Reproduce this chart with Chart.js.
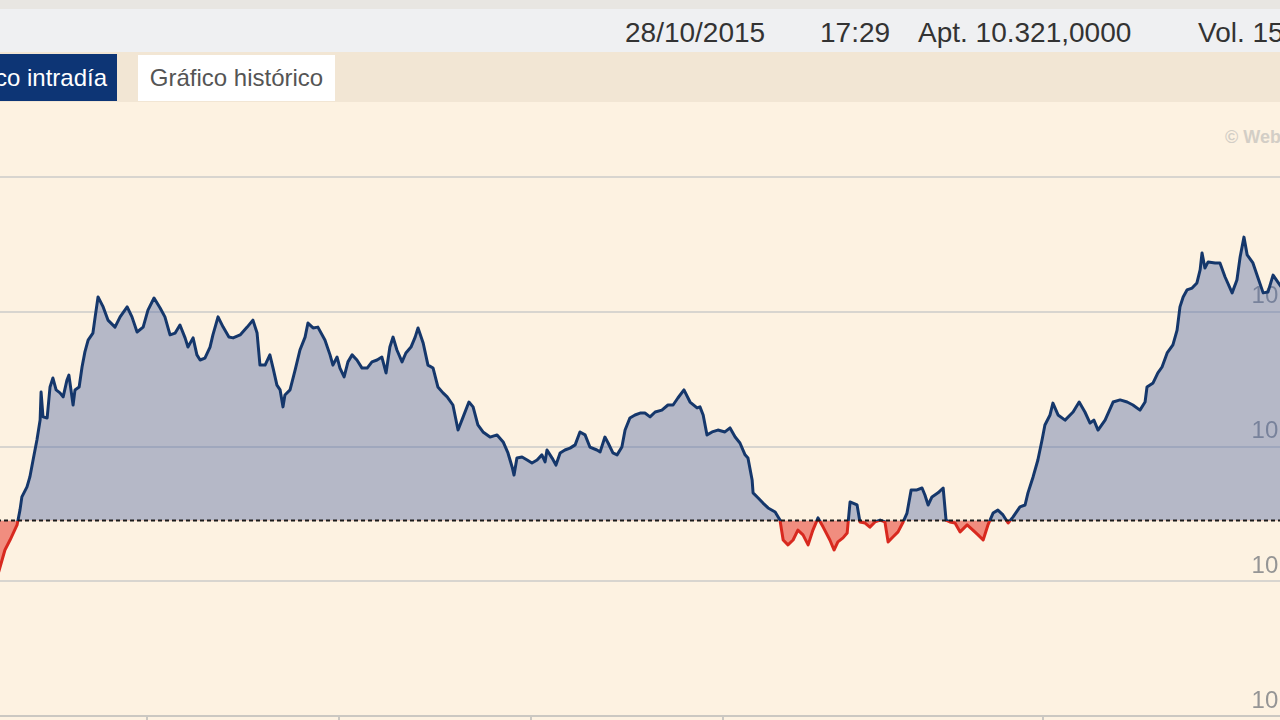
<!DOCTYPE html>
<html>
<head>
<meta charset="utf-8">
<script src="https://cdn.jsdelivr.net/npm/chart.js@4.4.1/dist/chart.umd.min.js"></script>
<style>
  html, body { margin: 0; padding: 0; }
  body {
    width: 1280px; height: 720px; overflow: hidden; position: relative;
    font-family: "Liberation Sans", Arial, sans-serif; background: #fdf2e1;
  }
  #strip { position: absolute; left: 0; top: 0; width: 1280px; height: 9px; background: #e8e6e2; }
  #bar { position: absolute; left: 0; top: 9px; width: 1280px; height: 43px; background: #eff0f2; }
  #bar span { position: absolute; top: 4px; line-height: 40px; font-size: 28px; color: #333; white-space: nowrap; }
  #tabs { position: absolute; left: 0; top: 52px; width: 1280px; height: 50px; background: #f2e6d4; }
  .tab { position: absolute; font-size: 24px; white-space: nowrap; }
  #tabOn { left: -60px; top: 2px; width: 167px; height: 47px; line-height: 47px; padding-right: 10px;
           text-align: right; background: #0d3575; color: #fff; }
  #tabOff { left: 138px; top: 3px; width: 197px; height: 46px; line-height: 46px;
            text-align: center; background: #fff; color: #555; }
  #wm { position: absolute; left: 1225px; top: 127px; font-size: 18px; font-weight: bold; color: #d3cec6; white-space: nowrap; }
  #box { position: absolute; left: -45px; top: 102px; width: 1376px; height: 660px; }
</style>
</head>
<body>
<div id="strip"></div>
<div id="bar">
  <span style="left:625px">28/10/2015</span>
  <span style="left:820px">17:29</span>
  <span style="left:918px">Apt. 10.321,0000</span>
  <span style="left:1198px">Vol. 15</span>
</div>
<div id="tabs">
  <div class="tab" id="tabOn">Gráfico intradía</div>
  <div class="tab" id="tabOff">Gráfico histórico</div>
</div>
<div id="wm">© Web</div>
<div id="box"><canvas id="myChart"></canvas></div>

<script>
'use strict';

// minutes since 9:00 and index level
const minutes = [
  13.1, 15.6, 17.2, 19.4, 20.3, 20.9, 22.5, 23.4, 24.4, 25.6,
  26.6, 26.9, 27.5, 28.8, 29.7, 30.6, 31.6, 32.8, 33.8, 35.0,
  35.6, 36.9, 37.5, 38.8, 39.7, 40.6, 41.6, 43.1, 43.8, 44.7,
  46.3, 47.8, 50.0, 51.6, 53.8, 55.3, 56.9, 58.8, 60.3, 62.2,
  64.1, 65.6, 67.2, 68.8, 70.3, 71.9, 72.8, 74.4, 75.6, 76.6,
  78.1, 79.7, 80.6, 82.2, 83.8, 85.6, 86.9, 89.1, 91.3, 93.1,
  94.4, 95.3, 96.9, 98.4, 99.4, 100.6, 101.6, 102.5, 103.1, 104.7,
  106.3, 107.8, 109.4, 110.3, 111.9, 113.4, 115.6, 117.2, 118.1, 119.4,
  120.3, 121.6, 122.8, 124.1, 125.6, 127.2, 128.8, 130.3, 131.9, 133.4,
  134.7, 135.9, 136.9, 138.1, 139.7, 140.9, 142.5, 143.8, 144.7, 146.3,
  147.8, 149.4, 150.9, 152.5, 153.8, 155.6, 157.2, 158.8, 160.6, 161.9,
  163.4, 165.0, 167.2, 169.4, 171.3, 172.8, 174.1, 174.7, 175.6, 177.2,
  178.8, 180.3, 181.9, 183.4, 184.4, 185.0, 186.6, 187.8, 189.1, 190.6,
  192.2, 193.8, 195.3, 196.9, 198.4, 200.6, 201.6, 203.1, 204.1, 205.6,
  206.9, 208.4, 209.4, 210.9, 212.5, 214.1, 215.6, 217.2, 218.8, 220.9,
  222.8, 224.4, 225.9, 227.8, 229.7, 231.9, 232.8, 233.8, 235.0, 236.6,
  238.4, 240.6, 242.2, 243.8, 245.3, 246.9, 247.8, 249.1, 249.4, 251.0,
  252.5, 254.1, 256.3, 257.8, 258.8, 260.3, 261.9, 263.4, 265.0, 266.6,
  268.1, 269.7, 271.3, 273.4, 274.7, 275.9, 277.5, 278.8, 279.7, 280.6,
  281.9, 282.8, 284.4, 285.9, 287.5, 289.1, 290.6, 291.6, 293.1, 294.7,
  296.3, 297.5, 298.8, 300.6, 302.2, 303.1, 304.1, 305.3, 307.2, 308.8,
  309.7, 310.9, 312.5, 314.1, 316.3, 318.1, 319.7, 321.3, 322.8, 324.4,
  325.9, 327.5, 329.1, 330.6, 332.8, 334.4, 335.3, 336.9, 338.4, 339.7,
  340.6, 342.2, 343.1, 344.7, 346.9, 349.4, 351.3, 353.1, 354.7, 355.9,
  357.2, 359.4, 361.9, 364.1, 366.3, 368.1, 370.3, 371.9, 372.5, 374.4,
  375.9, 377.2, 378.8, 380.6, 381.9, 382.8, 383.8, 385.0, 386.6, 388.1,
  389.1, 389.7, 390.6, 391.6, 393.8, 395.3, 396.9, 399.1, 400.6, 401.6,
  402.8, 403.8, 405.6, 407.2, 408.8, 410.3, 411.9, 413.4, 415.6
];

const prices = [
  10201.2, 10211.6, 10215.3, 10220.9, 10226.4, 10231.3, 10235.0, 10238.7, 10245.0, 10252.4,
  10259.8, 10270.2, 10261.0, 10260.6, 10272.1, 10275.4, 10271.0, 10269.9, 10268.4, 10274.7,
  10276.5, 10265.4, 10271.0, 10272.1, 10279.5, 10285.1, 10289.5, 10292.1, 10298.1, 10305.5,
  10301.8, 10296.9, 10294.3, 10298.1, 10301.8, 10298.1, 10292.5, 10294.3, 10300.6, 10305.1,
  10301.4, 10298.1, 10291.4, 10292.1, 10295.1, 10290.3, 10286.9, 10290.3, 10284.0, 10282.1,
  10282.8, 10286.9, 10291.4, 10298.1, 10294.3, 10290.6, 10290.3, 10291.4, 10294.3, 10296.9,
  10292.1, 10280.2, 10280.2, 10284.0, 10279.1, 10272.8, 10271.0, 10264.7, 10269.1, 10271.0,
  10278.4, 10285.8, 10290.6, 10295.8, 10294.0, 10294.3, 10289.5, 10284.0, 10280.2, 10283.2,
  10279.1, 10275.8, 10281.4, 10284.0, 10282.1, 10279.1, 10279.1, 10281.4, 10282.1, 10283.2,
  10277.3, 10286.9, 10290.6, 10285.8, 10281.4, 10284.7, 10286.9, 10290.6, 10294.0, 10288.4,
  10280.2, 10279.1, 10272.1, 10269.9, 10268.4, 10265.4, 10256.1, 10261.0, 10266.5, 10264.7,
  10258.0, 10255.4, 10253.5, 10254.3, 10251.7, 10247.6, 10242.4, 10239.4, 10245.7, 10246.1,
  10245.0, 10243.9, 10245.0, 10246.9, 10244.3, 10248.7, 10245.7, 10243.1, 10247.6, 10248.7,
  10249.4, 10250.6, 10255.4, 10254.3, 10249.8, 10248.7, 10248.0, 10253.5, 10251.3, 10247.6,
  10246.9, 10249.8, 10256.1, 10260.6, 10261.7, 10262.4, 10262.4, 10261.0, 10262.8, 10263.5,
  10265.4, 10265.4, 10268.0, 10271.0, 10266.5, 10264.3, 10264.7, 10261.7, 10254.3, 10255.4,
  10256.1, 10255.4, 10256.9, 10253.5, 10251.3, 10246.9, 10245.7, 10237.6, 10232.8, 10230.9,
  10229.0, 10227.2, 10225.7, 10222.7, 10215.3, 10213.5, 10215.3, 10219.0, 10217.2, 10213.5,
  10219.0, 10223.5, 10220.1, 10215.3, 10211.6, 10214.6, 10216.1, 10217.9, 10229.4, 10229.0,
  10228.3, 10222.0, 10221.6, 10220.1, 10222.0, 10222.7, 10222.0, 10214.6, 10216.4, 10218.3,
  10222.0, 10225.3, 10233.9, 10233.9, 10234.6, 10232.0, 10228.3, 10231.3, 10232.8, 10234.6,
  10222.7, 10222.0, 10221.6, 10218.3, 10220.9, 10219.0, 10217.2, 10215.3, 10220.9, 10225.3,
  10226.4, 10224.6, 10221.6, 10223.8, 10227.6, 10228.3, 10232.8, 10238.7, 10245.0, 10252.4,
  10258.0, 10261.7, 10266.1, 10261.7, 10259.8, 10262.8, 10266.5, 10262.8, 10258.7, 10259.8,
  10256.1, 10259.8, 10266.5, 10267.3, 10266.5, 10265.4, 10263.5, 10266.5, 10272.1, 10273.6,
  10277.3, 10279.5, 10284.7, 10287.7, 10293.2, 10301.8, 10305.5, 10308.1, 10308.8, 10310.7,
  10315.5, 10321.8, 10316.2, 10318.5, 10318.1, 10318.1, 10312.9, 10307.0, 10311.8, 10320.3,
  10327.7, 10321.1, 10318.1, 10312.5, 10307.0, 10307.3, 10313.6, 10311.0, 10307.3
];

// previous close (dotted reference line)
const prevClose = 10222.5;

// axis ticks
const yTickValues = [10150, 10200, 10250, 10300, 10350];
const xTickMinutes = [60, 120, 180, 240, 340];

const navy = '#15376b';
const red = '#d8291f';

function fmtLevel(v) {
  const s = v.toFixed(0);
  return s.slice(0, s.length - 3) + '.' + s.slice(-3);
}

function fmtTime(v) {
  const h = 9 + Math.floor(v / 60);
  const m = Math.round(v % 60);
  return h + ':' + String(m).padStart(2, '0');
}

// navy above the previous close, red below
function splitColor(context) {
  const chart = context.chart;
  const area = chart.chartArea;
  if (!area) return navy;
  const yPix = chart.scales.y.getPixelForValue(prevClose);
  const f = Math.min(1, Math.max(0, (yPix - area.top) / (area.bottom - area.top)));
  const g = chart.ctx.createLinearGradient(0, area.top, 0, area.bottom);
  g.addColorStop(0, navy);
  g.addColorStop(f, navy);
  g.addColorStop(f, red);
  g.addColorStop(1, red);
  return g;
}

Chart.defaults.font.family = '"Liberation Sans", Arial, sans-serif';

const xMin = 0;
const xMax = 430;

const ctx = document.getElementById('myChart').getContext('2d');

const myChart = new Chart(ctx, {
  type: 'line',
  data: {
    datasets: [
      {
        label: 'Cierre anterior',
        data: [{ x: xMin, y: prevClose }, { x: xMax, y: prevClose }],
        borderColor: '#1a1a1a',
        borderWidth: 2,
        borderDash: [4, 3],
        pointRadius: 0,
        fill: false
      },
      {
        label: 'IBEX 35',
        data: minutes.map((m, i) => ({ x: m, y: prices[i] })),
        borderColor: splitColor,
        borderWidth: 3,
        borderJoinStyle: 'round',
        pointRadius: 0,
        tension: 0,
        fill: {
          target: { value: prevClose },
          above: 'rgba(80,105,165,0.42)',
          below: 'rgba(230,40,30,0.5)'
        }
      }
    ]
  },
  options: {
    responsive: true,
    maintainAspectRatio: false,
    animation: false,
    layout: { padding: { top: 75, left: 0, right: 0, bottom: 0 } },
    plugins: {
      legend: { display: false },
      tooltip: { enabled: false }
    },
    scales: {
      x: {
        type: 'linear',
        min: xMin,
        max: xMax,
        offset: false,
        afterBuildTicks: s => { s.ticks = xTickMinutes.map(v => ({ value: v })); },
        afterFit: s => { s.height = 46; },
        ticks: {
          callback: v => fmtTime(v),
          color: '#888',
          font: { size: 20 },
          padding: 4,
          maxRotation: 0
        },
        grid: {
          drawOnChartArea: false,
          drawTicks: true,
          tickLength: 8,
          color: '#cbc8c2',
          lineWidth: 2
        },
        border: { display: true, color: '#cbc8c2', width: 2 }
      },
      y: {
        position: 'right',
        min: 10150,
        max: 10350,
        afterBuildTicks: s => { s.ticks = yTickValues.map(v => ({ value: v })); },
        afterFit: s => { s.width = 0; },
        ticks: {
          mirror: true,
          padding: -6,
          labelOffset: -15,
          color: '#959595',
          font: { size: 24 },
          callback: v => (v === 10350 ? '' : fmtLevel(v))
        },
        grid: {
          drawTicks: false,
          color: '#d8d5cf',
          lineWidth: 2
        },
        border: { display: false }
      }
    }
  }
});
</script>
</body>
</html>
